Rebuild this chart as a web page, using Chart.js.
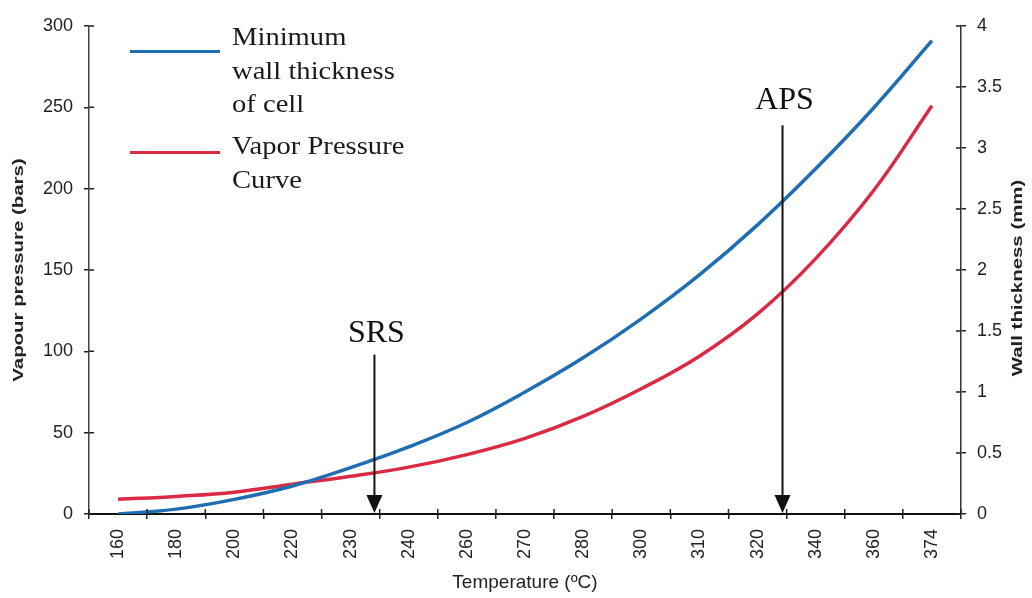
<!DOCTYPE html>
<html>
<head>
<meta charset="utf-8">
<script src="https://cdn.jsdelivr.net/npm/chart.js@4/dist/chart.umd.min.js"></script>
<style>
  html, body { margin: 0; padding: 0; background: #ffffff; }
  #c { display: block; }
</style>
</head>
<body>
<canvas id="c" width="1032" height="598"></canvas>
<script>
// ---- data ----
const temperatureLabels = ['160','180','200','220','230','240','260','270','280','300','310','320','340','360','374'];
// Minimum wall thickness of cell (mm), right axis
const wallThickness = [0.00, 0.04, 0.12, 0.23, 0.38, 0.55, 0.75, 1.00, 1.28, 1.60, 1.96, 2.37, 2.83, 3.33, 3.88];
// Vapour pressure (bars), left axis
const vaporPressure = [9.0, 10.8, 13.4, 18.3, 23.2, 28.8, 36.5, 46.5, 60.0, 77.0, 97.0, 123.0, 157.0, 199.0, 251.0];
const pressureTicks = { min: 0, max: 300, step: 50 };
const thicknessTicks = { min: 0, max: 4, step: 0.5 };
const seriesNames = ['Minimum wall thickness of cell', 'Vapor Pressure Curve'];
const legendLines = [['Minimum', 'wall thickness', 'of cell'], ['Vapor Pressure', 'Curve']];
// markers: name, position on the category axis (index units), label baseline and line top (bars)
const markerNames = ['SRS', 'APS'];
const markerIndex = [4.41, 11.43];
const markerLabelY = [106, 249];
const markerLineTop = [98, 239];

const xTitle = 'Temperature (ºC)';
const yLeftTitle = 'Vapour pressure (bars)';
const yRightTitle = 'Wall thickness (mm)';

const BLUE = '#1f6db3';
const RED = '#db2a43';
const SANS = "'Liberation Sans', Arial, sans-serif";
const SERIF = "'Liberation Serif', 'Times New Roman', serif";
const INK = '#222222';

const decorPlugin = {
  id: 'decor',
  afterDraw(chart) {
    const ctx = chart.ctx;
    const xs = chart.scales.x, yl = chart.scales.y, yr = chart.scales.y1;
    const area = chart.chartArea;
    ctx.save();
    // inner halves of tick marks (ticks cross the axes)
    ctx.strokeStyle = INK;
    ctx.lineWidth = 1.5;
    ctx.beginPath();
    for (let i = 0; i <= temperatureLabels.length; i++) {
      const px = xs.getPixelForValue(i - 0.5);
      ctx.moveTo(px, area.bottom);
      ctx.lineTo(px, area.bottom - 5);
    }
    yl.ticks.forEach(t => {
      const py = yl.getPixelForValue(t.value);
      ctx.moveTo(area.left, py); ctx.lineTo(area.left + 5, py);
    });
    yr.ticks.forEach(t => {
      const py = yr.getPixelForValue(t.value);
      ctx.moveTo(area.right, py); ctx.lineTo(area.right - 5, py);
    });
    ctx.stroke();

    // marker arrows
    ctx.fillStyle = '#111';
    ctx.strokeStyle = '#111';
    markerNames.forEach((name, k) => {
      const px = xs.getPixelForValue(markerIndex[k]);
      const top = yl.getPixelForValue(markerLineTop[k]);
      const tip = area.bottom - 1;
      const headH = 18, headW = 8;
      ctx.lineWidth = 2;
      ctx.beginPath();
      ctx.moveTo(px, top);
      ctx.lineTo(px, tip - headH + 2);
      ctx.stroke();
      ctx.beginPath();
      ctx.moveTo(px, tip);
      ctx.lineTo(px - headW, tip - headH);
      ctx.lineTo(px + headW, tip - headH);
      ctx.closePath();
      ctx.fill();
      ctx.font = '32px ' + SERIF;
      ctx.textAlign = 'center';
      ctx.textBaseline = 'alphabetic';
      ctx.fillText(name, px + 2, yl.getPixelForValue(markerLabelY[k]));
    });

    // legend
    const colors = [BLUE, RED];
    const lineY = [51.5, 152.5];
    const baseY = [45, 154];
    ctx.lineWidth = 3;
    legendLines.forEach((lines, k) => {
      ctx.strokeStyle = colors[k];
      ctx.beginPath();
      ctx.moveTo(130, lineY[k]);
      ctx.lineTo(220, lineY[k]);
      ctx.stroke();
      ctx.fillStyle = '#1a1a1a';
      ctx.font = '26px ' + SERIF;
      ctx.textAlign = 'left';
      lines.forEach((txt, j) => {
        ctx.save();
        ctx.translate(232, baseY[k] + j * 33.5);
        ctx.scale(1.1, 1);
        ctx.fillText(txt, 0, 0);
        ctx.restore();
      });
    });

    // rotated y-axis titles (both read bottom-to-top)
    ctx.fillStyle = INK;
    ctx.font = 'bold 15px ' + SANS;
    ctx.textAlign = 'center';
    ctx.textBaseline = 'middle';
    const drawV = (txt, cx, cy) => {
      ctx.save();
      ctx.translate(cx, cy);
      ctx.rotate(-Math.PI / 2);
      ctx.scale(1.36, 1);
      ctx.fillText(txt, 0, 0);
      ctx.restore();
    };
    drawV(yLeftTitle, 19, (area.top + area.bottom) / 2);
    drawV(yRightTitle, 1018, (area.top + area.bottom) / 2 + 8);
    ctx.restore();
  }
};

const fmt = v => String(Number(v.toFixed(2)));

new Chart(document.getElementById('c'), {
  type: 'line',
  data: {
    labels: temperatureLabels,
    datasets: [
      {
        label: seriesNames[0],
        data: wallThickness,
        yAxisID: 'y1',
        borderColor: BLUE,
        borderWidth: 3.5,
        pointRadius: 0,
        tension: 0.4,
        fill: false
      },
      {
        label: seriesNames[1],
        data: vaporPressure,
        yAxisID: 'y',
        borderColor: RED,
        borderWidth: 3.5,
        pointRadius: 0,
        tension: 0.4,
        fill: false
      }
    ]
  },
  options: {
    responsive: false,
    animation: false,
    layout: { padding: { top: 26, left: 0, right: 0, bottom: 0 } },
    plugins: { legend: { display: false }, tooltip: { enabled: false } },
    scales: {
      x: {
        type: 'category',
        offset: true,
        grid: { offset: true, drawOnChartArea: false, drawTicks: true, tickLength: 5, color: INK, lineWidth: 1.5 },
        border: { display: true, color: '#111', width: 2 },
        ticks: {
          autoSkip: false, minRotation: 90, maxRotation: 90, padding: 10,
          color: INK, font: { family: SANS, size: 18 }
        },
        title: { display: true, text: xTitle, color: INK, font: { family: SANS, size: 19 }, padding: { top: 0, bottom: 4 } },
        afterFit: s => { s.height = 84; }
      },
      y: {
        position: 'left',
        min: pressureTicks.min, max: pressureTicks.max,
        grid: { drawOnChartArea: false, tickLength: 5, color: INK, lineWidth: 1.5 },
        border: { display: true, color: '#444', width: 1.5 },
        ticks: { stepSize: pressureTicks.step, padding: 11, color: INK, font: { family: SANS, size: 18 } },
        afterFit: s => { s.width = 89; }
      },
      y1: {
        position: 'right',
        min: thicknessTicks.min, max: thicknessTicks.max,
        grid: { drawOnChartArea: false, tickLength: 5, color: INK, lineWidth: 1.5 },
        border: { display: true, color: '#333', width: 1.5 },
        ticks: { stepSize: thicknessTicks.step, padding: 11, color: INK, font: { family: SANS, size: 18 }, callback: v => fmt(v) },
        afterFit: s => { s.width = 71; }
      }
    }
  },
  plugins: [decorPlugin]
});
</script>
</body>
</html>
